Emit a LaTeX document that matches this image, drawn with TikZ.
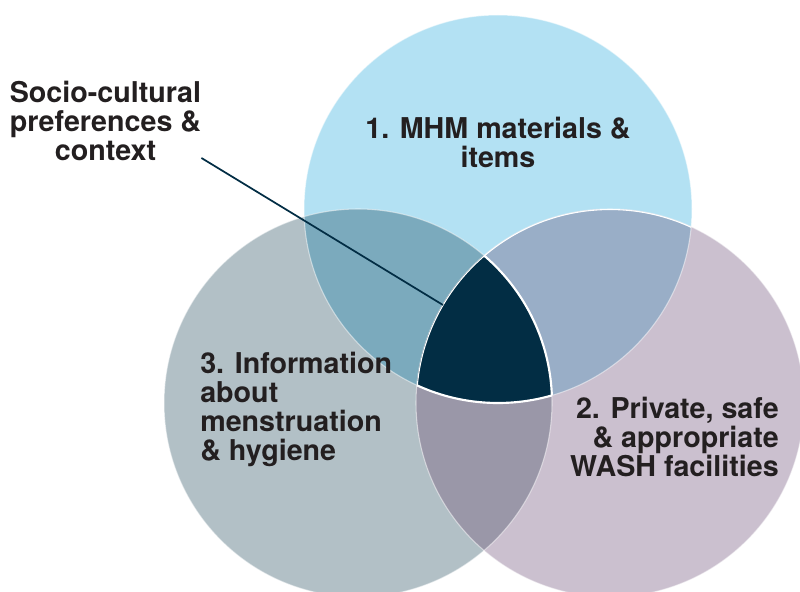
\documentclass[tikz,border=0pt]{standalone}
\usepackage{fontspec}
\setmainfont{TeX Gyre Heros}
\usepackage{tikz}

\definecolor{mhmblue}{HTML}{B3E1F3}
\definecolor{washlilac}{HTML}{CBC0CF}
\definecolor{infogrey}{HTML}{B2C0C6}
\definecolor{blueinfo}{HTML}{7BAABD}
\definecolor{bluewash}{HTML}{99AEC7}
\definecolor{washinfo}{HTML}{9A97A8}
\definecolor{corenavy}{HTML}{022D44}
\definecolor{labelink}{HTML}{231F20}

\tikzset{
  lbl/.style={font=\fontsize{21.5}{21.75}\selectfont\bfseries, text=labelink, inner sep=0pt},
  rim/.style={draw=white, draw opacity=0.5, line width=0.8pt}
}

\begin{document}
\begin{tikzpicture}[x=0.75pt,y=-0.75pt]
\useasboundingbox (0,0) rectangle (800,592);
\def\rad{194}
\coordinate (c1) at (498,209);
\coordinate (c2) at (610,403);
\coordinate (c3) at (358,403);

\begin{scope}
    \clip (0,0) rectangle (800,592);
    % the three sets
    \fill[mhmblue] (c1) circle(\rad);
    \fill[infogrey] (c3) circle(\rad);
    \fill[washlilac] (c2) circle(\rad);
    % pairwise overlaps
    \begin{scope}
        \clip (c1) circle(\rad);
        \fill[blueinfo] (c3) circle(\rad);
        \fill[bluewash] (c2) circle(\rad);
    \end{scope}
    \begin{scope}
        \clip (c3) circle(\rad);
        \fill[washinfo] (c2) circle(\rad);
    \end{scope}
    \draw[rim] (c1) circle(\rad);
    \draw[rim] (c2) circle(\rad);
    \draw[rim] (c3) circle(\rad);
    % the core
    \begin{scope}
        \clip (c1) circle(\rad);
        \clip (c2) circle(\rad);
        \fill[corenavy] (c3) circle(\rad);
        \draw[white, line width=1.6pt] (c3) circle(\rad);
        \draw[white, line width=1.6pt] (c2) circle(\rad);
    \end{scope}
    \begin{scope}
        \clip (c2) circle(\rad);
        \clip (c3) circle(\rad);
        \draw[white, line width=1.6pt] (c1) circle(\rad);
    \end{scope}
\end{scope}

\node[lbl, align=center, anchor=north] (socio) at (105.5,80.5) {Socio-cultural\\preferences \&\\context};
\node[lbl, align=center, anchor=north] (mhm) at (498,117) {1. MHM materials \&\\items};
\node[lbl, align=left, anchor=north west] (info) at (200,352) {3. Information\\about\\menstruation\\\& hygiene};
\node[lbl, align=right, anchor=north east] (wash) at (779,397) {2. Private, safe\\\& appropriate\\WASH facilities};

\coordinate (core) at (443,305);
\draw[corenavy, line width=1.3pt] ([yshift=2pt]socio.south east) -- (core);
\end{tikzpicture}
\end{document}
